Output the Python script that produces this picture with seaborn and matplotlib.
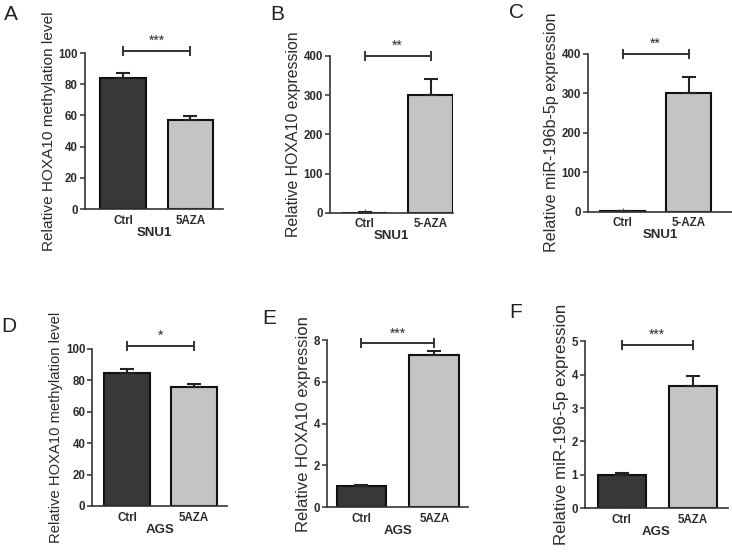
import matplotlib
matplotlib.use("Agg")
import matplotlib.pyplot as plt
import seaborn as sns

# --- data ---
panel_letters = ["A", "B", "C", "D", "E", "F"]
cell_lines = ["SNU1", "SNU1", "SNU1", "AGS", "AGS", "AGS"]
group_labels = [
    ["Ctrl", "5AZA"], ["Ctrl", "5-AZA"], ["Ctrl", "5-AZA"],
    ["Ctrl", "5AZA"], ["Ctrl", "5AZA"], ["Ctrl", "5AZA"],
]
ylabels = [
    "Relative HOXA10 methylation level",
    "Relative HOXA10 expression",
    "Relative miR-196b-5p expression",
    "Relative HOXA10 methylation level",
    "Relative HOXA10 expression",
    "Relative miR-196-5p expression",
]
means = [
    [84, 57],
    [1, 300],
    [1, 300],
    [85, 75.5],
    [1.0, 7.3],
    [1.0, 3.65],
]
sems = [
    [3, 2.5],
    [0.5, 40],
    [0.5, 40],
    [2.5, 2],
    [0.05, 0.2],
    [0.06, 0.32],
]
significance = ["***", "**", "**", "*", "***", "***"]
bracket_y = [101.5, 400, 400, 102, 7.85, 4.9]
y_max = [100, 400, 400, 100, 8, 5]
y_step = [20, 100, 100, 20, 2, 1]

# --- layout (figure fractions) ---
axes_boxes = [
    [0.116, 0.622, 0.189, 0.282],
    [0.451, 0.615, 0.168, 0.284],
    [0.803, 0.617, 0.197, 0.286],
    [0.126, 0.085, 0.184, 0.284],
    [0.447, 0.083, 0.193, 0.302],
    [0.799, 0.081, 0.195, 0.302],
]
xlims = [(-0.57, 1.49), (-0.52, 1.34), (-0.53, 1.66),
         (-0.52, 1.49), (-0.47, 1.47), (-0.52, 1.49)]
ylabel_sizes = [11.1, 11.4, 11.6, 10.6, 12.0, 12.2]
letter_pos = [(11, 14), (277, 14), (516, 12), (9, 326), (269, 318), (516, 313)]

sns.set_style("ticks")
plt.rcParams["font.family"] = ["Liberation Sans", "DejaVu Sans"]

TEXT = "#2b2b2b"
DARK = "#383838"
LIGHT = "#c4c4c4"

fig = plt.figure(figsize=(7.32, 5.53), dpi=100)

for i in range(6):
    ax = fig.add_axes(axes_boxes[i])
    labels = group_labels[i]
    sns.barplot(
        x=labels, y=means[i], hue=labels, palette=[DARK, LIGHT], legend=False,
        width=0.68, edgecolor="#111111", linewidth=1.5, errorbar=None, ax=ax,
    )
    # upward-only SEM bars
    ax.errorbar(
        [0, 1], means[i], yerr=[[0, 0], sems[i]], fmt="none",
        ecolor="#222222", elinewidth=1.5, capsize=5, capthick=1.5, zorder=1,
    )

    ax.set_ylim(0, y_max[i])
    ax.set_yticks([y_step[i] * k for k in range(int(round(y_max[i] / y_step[i])) + 1)])
    ax.set_xlim(*xlims[i])

    ax.set_ylabel(ylabels[i], fontsize=ylabel_sizes[i], color=TEXT, labelpad=2)
    ax.set_xlabel(cell_lines[i], fontsize=9.5, fontweight="bold", color=TEXT, labelpad=0)

    sns.despine(ax=ax)
    for side in ["left", "bottom"]:
        ax.spines[side].set_linewidth(1.2)
        ax.spines[side].set_color("#333333")
    ax.tick_params(axis="y", direction="out", length=3.5, width=1.1, color="#333333",
                   labelsize=8.3, labelcolor=TEXT, pad=1.5)
    ax.tick_params(axis="x", direction="in", length=3, width=0.8, color="#666666",
                   labelsize=8.3, labelcolor=TEXT, pad=4)
    for t in ax.get_yticklabels() + ax.get_xticklabels():
        t.set_fontweight("bold")

    # significance bracket
    by = bracket_y[i]
    ax.plot([0, 1], [by, by], color="#333333", lw=1.4, marker="|",
            markersize=7, markeredgewidth=1.4, clip_on=False)
    ax.annotate(significance[i], xy=(0.5, by), xytext=(0, 2),
                textcoords="offset points", ha="center", va="bottom",
                fontsize=10, color=TEXT, annotation_clip=False)

    lx, ly = letter_pos[i]
    fig.text(lx / 732, 1 - ly / 553, panel_letters[i], fontsize=15,
             ha="center", va="center", color="#222222")

fig.savefig("out.png", dpi=100)
